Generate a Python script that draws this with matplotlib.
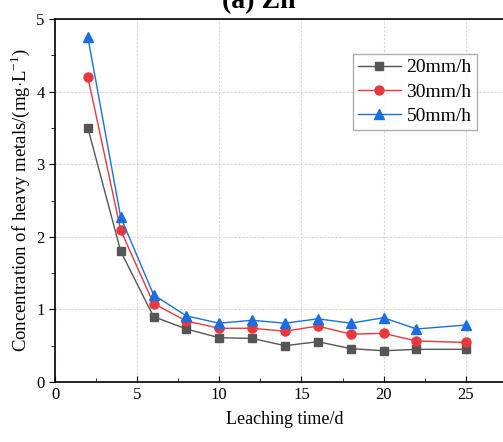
import matplotlib.pyplot as plt
from matplotlib.ticker import MultipleLocator

plt.rcParams['font.family'] = ['Liberation Serif', 'DejaVu Serif']
plt.rcParams['mathtext.fontset'] = 'custom'
plt.rcParams['mathtext.rm'] = 'Liberation Serif'

days = [2, 4, 6, 8, 10, 12, 14, 16, 18, 20, 22, 25]
zn_20 = [3.50, 1.80, 0.90, 0.73, 0.61, 0.60, 0.50, 0.555, 0.46, 0.43, 0.45, 0.45]
zn_30 = [4.20, 2.09, 1.08, 0.84, 0.74, 0.74, 0.70, 0.77, 0.66, 0.67, 0.565, 0.545]
zn_50 = [4.75, 2.27, 1.20, 0.91, 0.81, 0.85, 0.81, 0.87, 0.81, 0.885, 0.73, 0.785]
labels = ["20mm/h", "30mm/h", "50mm/h"]

fig = plt.figure(figsize=(5.03, 4.42), dpi=100)
ax = fig.add_axes([55 / 503, 60 / 442, 460 / 503, 363 / 442])

ax.plot(days, zn_20, color="#555555", marker="s", markersize=6, lw=1, label=labels[0])
ax.plot(days, zn_30, color="#e8383d", marker="o", markersize=6.5, lw=1, label=labels[1])
ax.plot(days, zn_50, color="#1a6ee0", marker="^", markersize=7, lw=1, label=labels[2])

ax.set_xlim(0, 28)
ax.set_ylim(0, 5)
ax.xaxis.set_major_locator(MultipleLocator(5))
ax.xaxis.set_minor_locator(MultipleLocator(2.5))
ax.yaxis.set_major_locator(MultipleLocator(1))
ax.yaxis.set_minor_locator(MultipleLocator(0.5))
ax.tick_params(axis="x", which="both", direction="in", labelsize=12)
ax.tick_params(axis="y", which="both", direction="out", labelsize=12)
ax.tick_params(which="major", length=4)
ax.tick_params(which="minor", length=3)
ax.grid(True, which="major", color="#d8d8d8", linestyle=(0, (2, 1.5)), lw=0.8)
for s in ax.spines.values():
    s.set_linewidth(1.2)

ax.set_xlabel("Leaching time/d", fontsize=13, labelpad=6)
ax.set_ylabel("Concentration of heavy metals/(mg$\\cdot$L$^{-1}$)", fontsize=13.5, labelpad=3)

ax.legend(loc="upper left", bbox_to_anchor=(0.648, 0.904), fontsize=14, frameon=True,
          fancybox=False, edgecolor="#999999", handlelength=2.2, borderpad=0.25,
          labelspacing=0.35, handletextpad=0.3, borderaxespad=0)

fig.text(259 / 503, 1 - 8 / 442, "(a) Zn", ha="center", va="baseline",
         fontsize=20, fontweight="bold")

fig.savefig("out.png", dpi=100)
